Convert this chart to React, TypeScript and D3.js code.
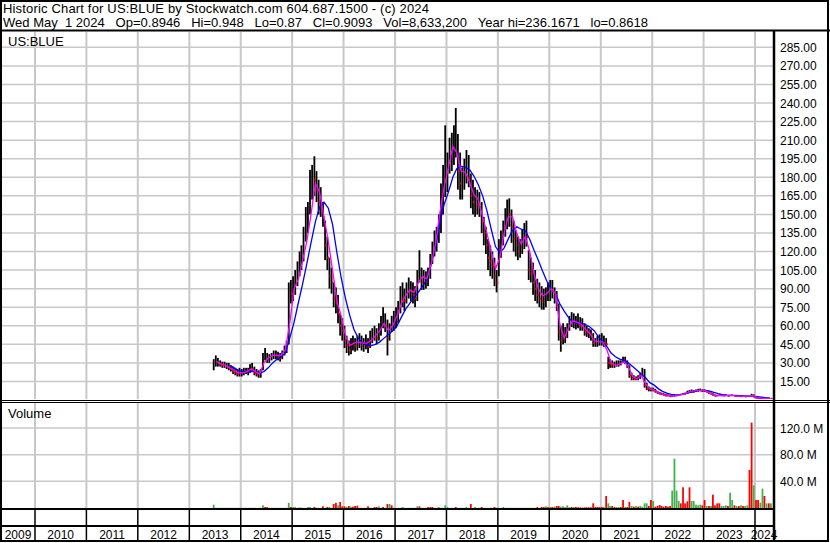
import React, { useEffect, useRef } from 'react';
import * as d3 from 'd3';

// half-month bars, first one is the 2nd half of June 2013
const priceHigh = [
  33, 36, 34, 32, 31, 31, 30, 30, 28, 27, 26, 25, 26,
  25, 26, 26, 26, 29, 30, 27, 25, 24, 25, 38, 42, 38, 37, 38, 40, 40, 39, 38, 40, 44, 48, 95, 97,
  100, 105, 112, 120, 125, 140, 156, 160, 186, 190, 197, 185, 178, 172, 160, 145, 132, 115, 107, 95, 91, 85, 70, 66,
  60, 52, 48, 50, 52, 50, 52, 54, 52, 50, 53, 50, 56, 58, 60, 58, 62, 68, 75, 70, 65, 62, 68, 72,
  75, 80, 92, 95, 90, 95, 99, 96, 95, 92, 105, 121, 107, 105, 104, 107, 118, 128, 137, 140, 150, 175, 190, 222,
  200, 212, 216, 222, 236, 215, 200, 188, 195, 202, 198, 183, 178, 172, 170, 168, 160, 148, 140, 130, 125, 120, 115, 105,
  130, 137, 145, 155, 162, 163, 154, 145, 137, 132, 130, 138, 143, 145, 121, 115, 111, 105, 98, 95, 92, 90, 91, 95,
  97, 97, 91, 88, 78, 60, 62, 59, 62, 68, 71, 70, 68, 70, 67, 66, 62, 60, 58, 57, 54, 50, 52, 53,
  54, 52, 50, 35, 33, 32, 31, 32, 32, 32, 35, 35, 32, 28, 22, 20, 19, 20, 22, 26, 25, 14, 11, 10,
  10, 9, 7, 6.5, 6, 5.5, 5, 4.5, 4, 3.8, 3.9, 4.2, 4.8, 5, 5.5, 6, 7.5, 8, 8.5, 8, 8.5, 9, 9.2, 8.5,
  8.5, 8, 7, 6, 5.5, 4.5, 4.3, 4.5, 4.5, 4.2, 4.5, 4, 4.2, 4.5, 4, 3.7, 3.8, 3.5, 3.5, 3.3, 3.4, 3.6, 5, 4.5,
  2.5, 2, 1.8, 1.7, 1.6, 1.4, 1.2, 1.1,
];
const priceLow = [
  24, 27, 27, 27, 26, 26, 25, 24, 23, 21, 20, 19, 19,
  19, 20, 21, 20, 22, 23, 20, 19, 18, 18, 24, 32, 30, 30, 32, 33, 33, 32, 31, 33, 36, 38, 45, 78,
  80, 85, 92, 100, 105, 112, 128, 135, 150, 162, 165, 160, 150, 148, 140, 113, 105, 90, 86, 75, 70, 62, 52, 48,
  42, 38, 36, 37, 40, 39, 40, 42, 40, 39, 41, 38, 42, 46, 48, 45, 48, 52, 58, 55, 36, 48, 55, 56,
  58, 62, 70, 75, 72, 78, 82, 80, 78, 75, 80, 95, 89, 89, 90, 92, 98, 110, 116, 120, 127, 135, 150, 164,
  168, 183, 185, 190, 196, 170, 162, 162, 170, 175, 172, 155, 150, 148, 150, 148, 135, 125, 118, 105, 100, 98, 92, 87,
  100, 115, 125, 132, 138, 140, 127, 120, 116, 113, 115, 118, 122, 124, 97, 95, 85, 80, 78, 75, 73, 73, 75, 80,
  80, 82, 78, 72, 48, 39, 45, 46, 50, 56, 59, 58, 57, 58, 56, 56, 52, 51, 50, 48, 43, 43, 43, 44,
  44, 43, 43, 25, 26, 26, 26, 27, 27, 28, 30, 29, 26, 18, 16, 16, 16, 16, 17, 19, 10, 8, 7, 7,
  7, 6, 5, 4.5, 4, 3.5, 3, 3, 2.5, 2.6, 2.8, 3, 3.5, 3.8, 4, 4.4, 5, 5.8, 6, 6, 6.5, 6.8, 7, 6.5,
  6.5, 6, 5, 4.5, 3.5, 3, 3, 3.2, 3.3, 3.2, 3.2, 3.1, 3.2, 3.4, 3, 3, 3, 2.8, 2.7, 2.6, 2.6, 2.8, 3, 2.2,
  1.5, 1.2, 1.2, 1.2, 1.1, 1.0, 0.9, 0.86,
];
const priceClose = [
  28, 32, 30, 29, 28, 29, 27, 26, 25, 23, 22, 21, 22,
  22, 23, 24, 23, 26, 25, 22, 21, 21, 22, 35, 36, 33, 34, 36, 37, 37, 35, 34, 38, 41, 45, 88, 86,
  92, 98, 105, 112, 118, 132, 145, 150, 175, 182, 178, 170, 160, 155, 148, 125, 115, 100, 95, 82, 78, 70, 60, 56,
  48, 44, 40, 45, 46, 44, 47, 48, 44, 45, 47, 43, 50, 52, 55, 50, 56, 62, 65, 60, 50, 56, 62, 65,
  68, 72, 85, 82, 80, 90, 92, 88, 85, 82, 98, 108, 95, 98, 96, 102, 112, 120, 128, 130, 140, 160, 175, 180,
  190, 200, 205, 210, 215, 185, 175, 178, 185, 190, 180, 165, 160, 162, 158, 155, 145, 135, 125, 115, 112, 108, 100, 95,
  120, 128, 138, 148, 152, 150, 140, 130, 125, 120, 122, 130, 135, 132, 105, 102, 95, 90, 85, 82, 80, 82, 85, 88,
  90, 88, 84, 76, 55, 48, 55, 52, 58, 64, 65, 62, 64, 62, 60, 60, 56, 54, 54, 52, 46, 46, 47, 48,
  48, 46, 45, 30, 29, 28, 28, 29, 30, 30, 32, 31, 28, 20, 18, 17, 17, 18, 19, 24, 12, 9, 9, 8.5,
  8, 7, 6, 5, 5, 4, 3.5, 3.6, 3, 3.2, 3.4, 3.8, 4.2, 4.5, 4.8, 5.2, 6.5, 6.8, 7.5, 7, 7.5, 8, 8, 7.5,
  7.5, 6.8, 5.5, 5, 4, 3.3, 3.6, 3.8, 3.7, 3.5, 3.8, 3.3, 3.6, 3.9, 3.2, 3.3, 3.2, 3, 3, 2.9, 3, 3.2, 4.5, 2.5,
  1.8, 1.5, 1.5, 1.4, 1.3, 1.2, 1.0, 0.92,
];
// millions of shares per half month, negative = down (red)
const volumes = [
  5, 0.3, 0.3, 0.3, 0.3, 0.3, 0.3, 0.3, 0.3, 0.3, 0.3, 0.3, 0.3,
  0.3, 0.3, 0.3, 0.3, 0.3, 0.3, 0.3, 0.3, 0.3, 0.3, 4, -1.5, -1.5, 0.3, 0.3, 0.3, 0.3, 0.3, 0.3, 0.3, 0.3, 0.3, 7.7, -1.5,
  1.5, -1, 0.3, 1, 0.3, 0.3, 0.3, 1.5, 1.5, 0.3, -1.5, 0.3, 0.3, 0.3, -2.6, 0.3, -1.5, 1.5, 0.3, -6, -7.7, 4, -9, -2.5,
  -2.5, 2, -3, 2, -2, -3, -3.5, 0.3, 0.3, 0.3, 0.3, -2.5, 0.3, 0.3, -1.5, -1.5, 2.5, 0.3, -1.5, 0.3, -6, 6, -4, 0.3,
  0.3, 0.3, 0.3, 1.5, 0.3, 0.3, 0.3, 0.3, 0.3, 0.3, 2.5, -2.5, 0.3, 0.3, 0.3, -1.5, -1.5, -1.5, 0.3, 0.3, 1.5, 0.3, 0.3, 4,
  1.5, 0.3, 0.3, 0.3, -1.5, 0.3, 0.3, 0.3, 0.3, 1.5, 0.3, -6, 0.3, 1.5, 0.3, 0.3, -1.5, 0.3, 0.3, 0.3, 0.3, 0.3, -1.5, 0.3,
  0.3, 0.3, 1.5, 0.3, 0.3, 0.3, 0.3, 0.3, 0.3, 0.3, 0.3, 0.3, 0.3, 0.3, 0.3, 0.3, 0.3, 0.3, -1.5, 0.3, -1.5, -1.5, 2.5, -1.5,
  1.5, -1.5, 2, -3, -3, 2, 2.5, -1, 4, 1.5, -1.5, 1.5, -1.5, -1, -1, 1, -1, -1, -1, -1, -7, -1.5, -1.5, -1.5,
  -1.5, 1.5, -18, 7, 3, -3, -1.5, 1.5, 1.5, -1.5, -12, 1.5, -1.5, -9, 3, -2, 3, -2, 3, 2, 7, 7, -3, -12,
  10.6, -2, -3, -4.5, -3, -2, -3, -2, -3, 26, 74, 26, 10.6, -7, -31, -7, -10, -31, 10.6, 10.6, 5, 4, 5, -4,
  -12, 3, -3, 3, -20, -4, -7, -7, 3, 3, 4, -3, 23, 12, -4, 3, -3, 4, -3, 3, 4, -57, -128, 34,
  -12, -12, 8, 29, -18, 7, -7, 7,
];
// short average (magenta), monthly from Jul 2013
const fastAvg = [
  31, 29, 28, 26, 24, 22,
  22, 23, 25, 23, 21, 30, 34, 36, 36, 36, 41, 62,
  90, 98, 112, 128, 150, 175, 168, 148, 128, 105, 80, 68,
  52, 44, 46, 47, 46, 46, 48, 52, 56, 62, 56, 60,
  68, 78, 84, 89, 87, 95, 100, 98, 110, 126, 151, 172,
  188, 205, 200, 185, 184, 176, 166, 162, 148, 135, 120, 106,
  115, 135, 148, 148, 135, 126, 132, 120, 102, 90, 84, 86,
  90, 86, 62, 50, 58, 64, 63, 61, 57, 54, 48, 47,
  47, 40, 30, 28, 29, 31, 27, 19, 17, 20, 13, 9,
  8, 6, 4.8, 3.7, 3.1, 3.3, 4.1, 4.8, 6.3, 7.2, 7.6, 8,
  7.4, 5.6, 3.8, 3.6, 3.6, 3.6, 3.7, 3.3, 3.1, 2.9, 3.1, 3.6,
  1.9, 1.5, 1.3, 1.0,
];
// long average (blue), monthly from Oct 2013
const slowAvg = [
  28, 26, 24,
  23, 22.5, 23, 23, 22, 23, 26, 30, 33, 35, 38, 50,
  63, 79, 93, 110, 127, 144, 156, 160, 155, 142, 119, 99,
  82, 68, 57, 50, 46, 44, 44, 45, 47, 50, 53, 56,
  60, 67, 73, 78, 83, 87, 92, 97, 110, 124, 143, 158,
  168, 180, 187, 189, 188, 186, 181, 174, 165, 153, 138, 124,
  119, 123, 130, 137, 140, 138, 137, 130, 121, 113, 104, 96,
  90, 86, 78, 72, 67, 63, 62, 62, 61, 59, 56, 51,
  47, 43, 38, 35, 33, 32, 30, 27, 24, 21, 18, 14,
  12, 9, 7, 5.5, 4.6, 4.2, 4.3, 4.8, 5.7, 6.6, 7.3, 7.8,
  7.8, 7.2, 6.2, 5.2, 4.4, 4, 3.8, 3.7, 3.6, 3.4, 3.2, 3.1,
  2.8, 2.3, 1.9, 1.6,
];
const priceTicks = [15, 30, 45, 60, 75, 90, 105, 120, 135, 150, 165, 180, 195, 210, 225, 240, 255, 270, 285];
const volumeTicks = [40, 80, 120];
const years = [2009, 2010, 2011, 2012, 2013, 2014, 2015, 2016, 2017, 2018, 2019, 2020, 2021, 2022, 2023, 2024];

const headerLine1 = 'Historic Chart for US:BLUE by Stockwatch.com 604.687.1500 - (c) 2024';
const headerLine2 =
  'Wed May  1 2024   Op=0.8946   Hi=0.948   Lo=0.87   Cl=0.9093   Vol=8,633,200   Year hi=236.1671   lo=0.8618';

const halfMonthDate = (i: number) => {
  const g = i + 11;
  return new Date(2013 + Math.floor(g / 24), Math.floor((g % 24) / 2), g % 2 ? 23 : 8);
};
const monthDate = (y0: number, m0: number, i: number) => new Date(y0, m0 + i, 15);

const W = 830;
const H = 543;
const FONT = '"Liberation Sans", Arial, sans-serif';

const App = () => {
  const ref = useRef<SVGSVGElement>(null);

  useEffect(() => {
    const svg = d3.select(ref.current);
    svg.selectAll('*').remove();

    const right = 773;
    const x = d3.scaleTime().domain([new Date(2010, 0, 1), new Date(2024, 0, 1)]).range([35, 755]);
    const y = d3.scaleLinear().domain([0, 300]).range([400, 28.8]);
    const yv = d3.scaleLinear().domain([0, 120]).range([508, 428]);

    svg.append('rect').attr('width', W).attr('height', H).attr('fill', '#fff');

    const defs = svg.append('defs');
    defs.append('clipPath').attr('id', 'priceClip')
      .append('rect').attr('x', 2).attr('y', 32).attr('width', right - 2).attr('height', 367);
    defs.append('clipPath').attr('id', 'volClip')
      .append('rect').attr('x', 2).attr('y', 403).attr('width', right - 2).attr('height', 105);

    // grid
    const grid = svg.append('g').attr('stroke', '#c8c8c8').attr('stroke-width', 2);
    priceTicks.forEach(t => {
      grid.append('line').attr('x1', 2).attr('x2', right).attr('y1', y(t)).attr('y2', y(t)).attr('stroke-width', 1.5);
    });
    volumeTicks.forEach(t => {
      grid.append('line').attr('x1', 2).attr('x2', right).attr('y1', yv(t)).attr('y2', yv(t)).attr('stroke-width', 1.5);
    });
    years.slice(1).forEach(yr => {
      const gx = x(new Date(yr, 0, 1));
      grid.append('line').attr('x1', gx).attr('x2', gx).attr('y1', 32).attr('y2', 399);
      grid.append('line').attr('x1', gx).attr('x2', gx).attr('y1', 403).attr('y2', 508);
    });

    // price bars
    const bars = svg.append('g').attr('clip-path', 'url(#priceClip)');
    priceHigh.forEach((hi, i) => {
      const bx = x(halfMonthDate(i));
      const top = y(hi);
      const h = Math.max(1.2, y(priceLow[i]) - top);
      bars.append('rect').attr('x', bx - 0.9).attr('y', top).attr('width', 1.8).attr('height', h).attr('fill', '#000');
    });
    priceClose.forEach((c, i) => {
      if (i === 0 || c >= priceClose[i - 1]) return;
      const bx = x(halfMonthDate(i));
      bars.append('rect').attr('x', bx).attr('y', y(c) - 1).attr('width', 1.6).attr('height', 2).attr('fill', '#ff0000');
    });

    const fastLine = d3.line<number>()
      .x((d, i) => x(monthDate(2013, 6, i)))
      .y(d => y(d));
    const slowLine = d3.line<number>()
      .x((d, i) => x(monthDate(2013, 9, i)))
      .y(d => y(d));
    bars.append('path').attr('d', slowLine(slowAvg)).attr('fill', 'none').attr('stroke', '#0000ff').attr('stroke-width', 1.3);
    bars.append('path').attr('d', fastLine(fastAvg)).attr('fill', 'none').attr('stroke', '#ff00ff').attr('stroke-width', 1.3);

    // volume
    const vol = svg.append('g').attr('clip-path', 'url(#volClip)');
    volumes.forEach((v, i) => {
      const bx = x(halfMonthDate(i));
      const top = yv(Math.abs(v));
      vol.append('rect').attr('x', bx - 0.9).attr('y', top).attr('width', 1.8).attr('height', 508 - top)
        .attr('fill', v < 0 ? '#ff0000' : '#44b04c');
    });

    // frame lines
    const frame = svg.append('g').attr('stroke', '#000').attr('fill', 'none');
    frame.append('rect').attr('x', 1).attr('y', 1).attr('width', 827).attr('height', 540).attr('stroke-width', 2);
    frame.append('line').attr('x1', 0).attr('x2', W).attr('y1', 30.5).attr('y2', 30.5).attr('stroke-width', 2);
    frame.append('line').attr('x1', 0).attr('x2', W).attr('y1', 400.5).attr('y2', 400.5).attr('stroke-width', 1);
    frame.append('line').attr('x1', 0).attr('x2', W).attr('y1', 402.5).attr('y2', 402.5).attr('stroke-width', 1);
    frame.append('line').attr('x1', 0).attr('x2', right).attr('y1', 509).attr('y2', 509).attr('stroke-width', 2);
    frame.append('line').attr('x1', 0).attr('x2', right).attr('y1', 526).attr('y2', 526).attr('stroke-width', 2);
    years.slice(1).forEach(yr => {
      const gx = x(new Date(yr, 0, 1));
      frame.append('line').attr('x1', gx).attr('x2', gx).attr('y1', 509).attr('y2', 541).attr('stroke-width', 1.5);
    });
    frame.append('line').attr('x1', 774).attr('x2', 774).attr('y1', 31).attr('y2', 541).attr('stroke-width', 2.5);

    // texts
    const txt = svg.append('g').attr('font-family', FONT).attr('font-size', 13).attr('fill', '#000');
    // header is stretched to the width it has in the source picture
    txt.append('text').attr('x', 3).attr('y', 13)
      .attr('textLength', 426).attr('lengthAdjust', 'spacing')
      .text(headerLine1.replace(/ /g, '\u00a0'));
    txt.append('text').attr('x', 3).attr('y', 26.5)
      .attr('textLength', 645).attr('lengthAdjust', 'spacing')
      .text(headerLine2.replace(/ /g, '\u00a0'));
    txt.append('text').attr('x', 8).attr('y', 46).text('US:BLUE');
    txt.append('text').attr('x', 8).attr('y', 418).text('Volume');

    const axisTxt = txt.append('g').attr('font-size', 12);
    priceTicks.forEach(t => {
      axisTxt.append('text').attr('x', 780).attr('y', y(t) + 4.5).text(d3.format('.2f')(t));
    });
    volumeTicks.forEach(t => {
      axisTxt.append('text').attr('x', 780).attr('y', yv(t) + 4.5).text(`${d3.format('.1f')(t)}\u00a0M`);
    });
    years.forEach(yr => {
      const l = Math.max(1, x(new Date(yr, 0, 1)));
      const r = Math.min(right, x(new Date(yr + 1, 0, 1)));
      axisTxt.append('text').attr('x', (l + r) / 2).attr('y', 539).attr('text-anchor', 'middle').text(String(yr));
    });
  }, []);

  return (
    <svg
      ref={ref}
      width={W}
      height={H}
      style={{ position: 'absolute', left: 0, top: 0, display: 'block' }}
    ></svg>
  );
};

export default App;
